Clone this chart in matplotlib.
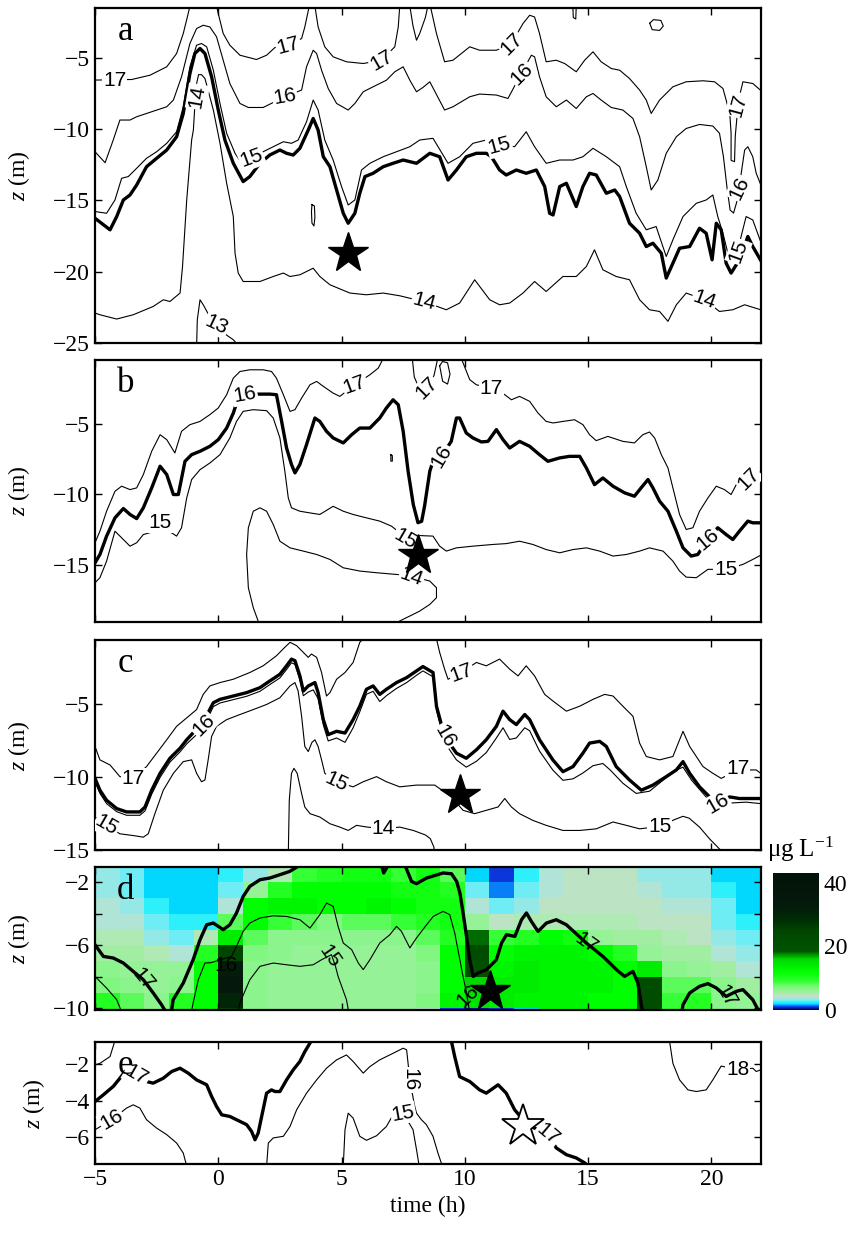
import numpy as np
import matplotlib
matplotlib.use('Agg')
import matplotlib.pyplot as plt
from matplotlib.colors import LinearSegmentedColormap
from matplotlib.ticker import FixedLocator

plt.rcParams['font.family'] = 'serif'
plt.rcParams['font.serif'] = ['Liberation Serif', 'DejaVu Serif']
plt.rcParams['mathtext.fontset'] = 'custom'
plt.rcParams['mathtext.rm'] = 'Liberation Serif'
plt.rcParams['mathtext.it'] = 'Liberation Serif:italic'

# ---------------- panel a: isotherm depths (time h, depth m) ----------------
a_17 = [
    [(-5, -6.58), (-3.51, -6.54), (-2.77, -6.24), (-2.09, -5.65), (-1.69, -4.72), (-1.42, -3.32),
     (-1.22, -1.92), (-1.15, -1.4)],
    [(-0.07, -1.4), (0.0, -1.92), (0.2, -3.32), (0.47, -4.14), (0.88, -4.84), (1.55, -5.14), (1.96, -4.84),
     (2.3, -4.3), (2.84, -4.14), (3.38, -3.67), (3.51, -2.86), (3.69, -1.4)],
    [(3.92, -1.4), (4.05, -2.86), (4.32, -4.25), (4.66, -4.95), (5.2, -5.3), (5.88, -5.42), (6.62, -5.19),
     (7.16, -4.25), (7.3, -2.86), (7.36, -1.4)],
    [(7.77, -1.4), (7.9, -2.8), (8.04, -3.79), (8.17, -3.32), (8.4, -2.2), (8.5, -1.4)],
    [(8.6, -1.4), (8.64, -1.69), (8.85, -3.32), (9.18, -5.3), (9.52, -5.19), (10.2, -4.25), (10.6, -4.49),
     (11.28, -4.49), (11.89, -4.02), (12.36, -2.62), (12.63, -2.04), (12.83, -2.16), (13.03, -3.32),
     (13.3, -5.3), (13.71, -5.19), (14.05, -5.42), (14.52, -6.0), (14.86, -5.19), (15.2, -4.6),
     (15.53, -5.3), (15.94, -5.77), (16.28, -5.89), (16.68, -6.47), (17.09, -7.28), (17.36, -7.98),
     (17.56, -8.92), (17.9, -7.98), (18.44, -7.05), (18.98, -6.7), (19.66, -6.63), (20.13, -6.7),
     (20.47, -7.17), (20.6, -7.98), (20.75, -9.0), (20.8, -10.3), (20.8, -12.2), (20.94, -12.3),
     (20.97, -10.5), (21.1, -8.0), (21.28, -6.7), (21.68, -6.82), (22, -7.3)],
]
a_16 = [
    [(-5, -11.6), (-4.59, -12.37), (-4.26, -10.78), (-3.99, -9.38), (-3.58, -9.38), (-3.31, -9.15),
     (-2.91, -8.92), (-2.09, -8.45), (-1.82, -7.98), (-1.49, -6.35), (-1.15, -4.02), (-0.88, -2.97),
     (-0.61, -2.74), (-0.34, -2.86), (-0.07, -3.55), (0.2, -5.19), (0.47, -6.82), (0.88, -8.22),
     (1.22, -8.5), (1.82, -8.5), (2.7, -7.75), (3.38, -7.28), (3.58, -5.65), (3.85, -4.49), (3.99, -4.72),
     (4.19, -5.89), (4.46, -7.17), (4.8, -8.22), (5.27, -8.68), (5.54, -8.22), (5.88, -7.4), (6.42, -6.93),
     (6.82, -6.59), (7.16, -6.0), (7.5, -5.65), (7.77, -6.59), (8.04, -7.4), (8.3, -7.1), (8.58, -6.7),
     (9.18, -8.68), (9.52, -8.45), (10.2, -7.75), (10.6, -7.56), (11.28, -7.63), (11.75, -7.87),
     (12.29, -6.12), (12.7, -4.84), (12.83, -4.95), (13.03, -6.35), (13.3, -7.75), (13.71, -8.45),
     (14.12, -7.98), (14.52, -8.57), (14.93, -7.75), (15.2, -7.52), (15.53, -7.98), (15.94, -8.5),
     (16.41, -8.68), (16.82, -9.27), (17.09, -10.55), (17.36, -12.65), (17.56, -14.28), (17.83, -13.58),
     (18.17, -11.71), (18.58, -10.55), (18.98, -9.97), (19.52, -9.69), (20.06, -9.8), (20.33, -10.31),
     (20.49, -11.95), (20.63, -14.04), (20.76, -15.68), (20.9, -15.9), (21.05, -15.0), (21.35, -11.48),
     (21.48, -11.25), (21.68, -11.95), (21.82, -13.11), (22, -13.9)],
]
a_15 = [
    [(-5, -15.79), (-4.53, -15.91), (-4.19, -14.98), (-3.92, -13.46), (-3.65, -13.34), (-3.38, -12.88),
     (-2.91, -12.06), (-2.5, -11.6), (-2.09, -11.01), (-1.69, -10.2), (-1.42, -8.45), (-1.15, -5.65),
     (-0.88, -4.14), (-0.68, -4.02), (-0.47, -4.25), (-0.2, -5.89), (0.07, -8.22), (0.34, -10.31),
     (0.68, -11.71), (0.95, -12.41), (1.35, -12.06), (1.82, -11.6), (2.23, -11.25), (2.64, -10.9),
     (2.97, -11.01), (3.24, -10.78), (3.58, -9.5), (3.85, -7.98), (4.05, -8.68), (4.32, -10.78),
     (4.66, -12.18), (5.0, -14.04), (5.27, -15.33), (5.54, -14.98), (5.81, -12.88), (6.15, -12.41),
     (6.69, -11.95), (7.23, -11.6), (7.77, -11.25), (8.17, -10.78), (8.71, -10.66), (9.32, -12.41),
     (9.79, -11.95), (10.33, -11.01), (10.87, -10.78), (11.41, -11.1), (12.02, -11.25), (12.49, -10.2),
     (12.83, -11.25), (13.3, -12.41), (13.85, -12.18), (14.39, -12.18), (14.79, -11.95), (15.2, -11.36),
     (15.74, -11.95), (16.28, -12.65), (16.55, -14.04), (16.95, -15.91), (17.36, -17.07), (17.76, -16.84),
     (18.17, -18.94), (18.44, -17.77), (18.85, -16.14), (19.39, -15.21), (19.79, -14.98), (20.06, -14.63),
     (20.26, -16.14), (20.47, -17.31), (20.67, -18.71), (20.85, -19.2), (21.14, -18.0), (21.41, -16.14),
     (21.68, -16.38), (22, -17.9)],
]
a_thick = [
    [(-5, -16.26), (-4.39, -17.07), (-4.12, -16.14), (-3.85, -14.98), (-3.58, -14.63), (-3.31, -13.93),
     (-2.91, -12.65), (-2.5, -12.06), (-2.09, -11.48), (-1.69, -10.55), (-1.42, -8.92), (-1.15, -6.12),
     (-0.95, -4.72), (-0.74, -4.37), (-0.54, -4.72), (-0.27, -6.35), (0.0, -8.68), (0.27, -10.78),
     (0.61, -12.41), (1.01, -13.69), (1.28, -13.34), (1.69, -12.41), (2.09, -11.83), (2.5, -11.48),
     (2.77, -11.71), (3.04, -11.83), (3.31, -11.36), (3.65, -10.08), (3.85, -9.27), (4.05, -10.08),
     (4.26, -11.95), (4.53, -12.65), (4.8, -14.28), (5.07, -15.91), (5.27, -16.61), (5.54, -15.91),
     (5.74, -14.51), (5.95, -13.34), (6.28, -13.11), (6.69, -12.65), (7.09, -12.41), (7.5, -12.18),
     (8.04, -12.41), (8.58, -11.71), (8.98, -11.95), (9.32, -13.58), (9.66, -12.88), (10.06, -11.95),
     (10.47, -11.71), (10.87, -11.71), (11.08, -11.95), (11.41, -12.88), (11.68, -13.23), (12.09, -12.88),
     (12.49, -13.11), (12.9, -12.88), (13.24, -14.04), (13.44, -15.91), (13.58, -16.03), (13.85, -14.04),
     (14.12, -13.81), (14.52, -15.44), (14.79, -14.04), (15.06, -13.11), (15.33, -13.23), (15.74, -14.51),
     (16.08, -14.28), (16.28, -14.74), (16.68, -16.61), (17.09, -17.31), (17.36, -18.24), (17.63, -18.01),
     (17.97, -18.71), (18.17, -20.45), (18.44, -19.41), (18.71, -18.36), (19.12, -18.24), (19.52, -16.96),
     (19.79, -17.31), (20.03, -19.17), (20.2, -16.61), (20.4, -17.07), (20.6, -19.41), (20.8, -20.1),
     (21.14, -19.17), (21.48, -17.54), (21.68, -18.24), (22, -19.2)],
]
a_14 = [
    [(-5, -22.9), (-4.8, -23.02), (-4.12, -23.32), (-3.45, -23.02), (-2.64, -22.44), (-2.23, -21.97),
     (-1.96, -22.09), (-1.55, -21.5), (-1.45, -19.64), (-1.28, -14.98), (-1.08, -10.78), (-1.01, -10.08),
     (-0.9, -7.0), (-0.8, -6.2), (-0.68, -6.2), (-0.54, -6.47), (-0.2, -8.68), (0.07, -11.01),
     (0.34, -13.81), (0.61, -16.14), (0.68, -18.71), (0.81, -20.1), (1.01, -20.69), (1.69, -20.69),
     (2.23, -20.34), (2.64, -20.1), (2.91, -20.34), (3.31, -20.22), (3.85, -19.76), (4.12, -20.34),
     (4.53, -20.92), (5.34, -21.5), (6.01, -21.62), (6.69, -21.5), (7.36, -21.69), (8.31, -22.09),
     (9.25, -22.67), (9.79, -22.2), (10.4, -20.57), (11.01, -21.97), (11.41, -22.32), (11.82, -22.2),
     (12.36, -21.5), (12.83, -20.69), (13.3, -21.39), (13.98, -20.34), (14.52, -20.34), (14.93, -19.64),
     (15.26, -18.47), (15.6, -19.87), (16.14, -20.34), (16.68, -20.57), (17.09, -21.97), (17.49, -22.67),
     (17.9, -22.79), (18.24, -23.48), (18.58, -22.32), (18.98, -21.5), (19.72, -21.97), (20.33, -22.79),
     (20.87, -22.67), (21.35, -22.32), (22, -22.67)],
]
a_13 = [
    [(-0.88, -25.3), (-0.85, -23.37), (-0.74, -21.97), (-0.61, -22.32), (-0.3, -23.3), (0.3, -24.4),
     (0.61, -24.77), (0.88, -25.3)],
]
a_loops = [
    [(3.8, -15.3), (3.9, -15.4), (3.92, -16.2), (3.88, -16.8), (3.8, -16.6), (3.78, -15.8), (3.8, -15.3)],
    [(17.5, -2.6), (17.65, -2.35), (17.95, -2.4), (18.05, -2.8), (17.9, -3.1), (17.6, -3.05), (17.5, -2.6)],
    [(14.38, -1.4), (14.4, -2.2), (14.5, -2.3), (14.52, -1.4)],
]
a_labels = [('17', -4.2, -6.6, 0), ('17', 2.84, -4.14, 15), ('17', 6.62, -5.19, 30), ('17', 11.89, -4.02, 45),
            ('17', 21.07, -8.33, 75), ('16', 2.7, -7.75, 10), ('16', 12.29, -6.12, 45), ('16', 21.14, -14.16, 65),
            ('15', 1.35, -12.06, 20), ('15', 11.41, -11.2, 15), ('15', 21.1, -18.6, 70), ('14', -0.85, -7.75, 80),
            ('14', 8.35, -22.09, -15), ('14', 19.72, -21.97, -20), ('13', -0.07, -23.72, -25)]
a_star = (5.27, -18.7)

# ---------------- panel b ----------------
b_thick = [
    [(-5, -14.84), (-4.8, -14.25), (-4.53, -12.95), (-4.19, -11.66), (-3.85, -11.0), (-3.58, -11.42),
     (-3.31, -11.71), (-3.04, -10.95), (-2.7, -9.54), (-2.36, -8.01), (-2.09, -8.6), (-1.82, -10.01),
     (-1.62, -10.01), (-1.35, -7.66), (-1.08, -7.19), (-0.74, -6.95), (-0.34, -6.6), (0.0, -6.13),
     (0.34, -5.31), (0.61, -4.25), (0.81, -3.19), (1.08, -2.95), (1.62, -2.91), (2.09, -2.91),
     (2.36, -2.95), (2.57, -4.84), (2.77, -6.72), (2.97, -7.89), (3.11, -8.48), (3.31, -7.89),
     (3.58, -6.48), (3.92, -4.6), (4.12, -4.84), (4.39, -5.54), (4.66, -6.01), (5.07, -6.36),
     (5.41, -5.78), (5.74, -5.31), (6.15, -5.31), (6.55, -4.6), (6.82, -3.89), (7.09, -3.31),
     (7.3, -3.66), (7.5, -5.54), (7.7, -8.36), (7.91, -10.72), (8.1, -12.0), (8.25, -11.9),
     (8.37, -10.8), (8.58, -8.36), (8.71, -7.66), (9.05, -7.31), (9.45, -6.25), (9.66, -4.6),
     (9.79, -4.6), (10.06, -5.66), (10.33, -6.01), (10.67, -6.29), (10.94, -6.25), (11.28, -5.42),
     (11.55, -6.13), (11.82, -6.72), (12.22, -6.25), (12.63, -6.6), (13.03, -7.19), (13.37, -7.66),
     (13.85, -7.42), (14.25, -7.31), (14.66, -7.31), (14.93, -8.13), (15.26, -9.31), (15.6, -8.84),
     (16.01, -9.42), (16.48, -9.89), (16.88, -10.13), (17.15, -9.54), (17.43, -8.95), (17.63, -9.54),
     (17.9, -10.48), (18.24, -11.19), (18.58, -12.6), (18.85, -13.78), (19.18, -14.36), (19.45, -14.25),
     (19.86, -13.19), (20.26, -12.36), (20.6, -12.84), (20.87, -13.19), (21.14, -12.6), (21.48, -11.89),
     (21.68, -12.01), (22, -12.01)],
]
b_17 = [
    [(-5, -13.42), (-4.8, -12.6), (-4.53, -11.19), (-4.19, -9.78), (-3.92, -9.42), (-3.58, -9.66),
     (-3.31, -9.54), (-3.04, -8.6), (-2.7, -6.95), (-2.36, -5.78), (-2.09, -6.13), (-1.76, -7.07),
     (-1.49, -5.54), (-1.15, -5.07), (-0.74, -4.84), (-0.34, -4.36), (0.0, -3.89), (0.34, -2.95),
     (0.61, -1.78), (0.88, -1.31), (1.28, -1.19), (1.82, -1.19), (2.16, -1.31), (2.36, -1.78),
     (2.64, -2.95), (2.91, -4.13), (3.11, -4.01), (3.38, -3.19), (3.72, -2.25), (3.99, -2.01),
     (4.26, -2.36), (4.66, -2.84), (4.93, -3.07), (5.54, -2.25), (6.15, -1.54), (6.49, -1.07), (6.69, -0.4)],
    [(7.87, -0.4), (7.95, -1.7), (8.1, -2.3), (8.45, -2.5), (8.75, -1.6), (8.9, -0.4)],
    [(8.98, -0.9), (9.1, -0.6), (9.3, -0.7), (9.4, -1.5), (9.3, -2.2), (9.1, -2.0), (8.98, -0.9)],
    [(9.86, -0.4), (10.2, -1.89), (10.47, -2.25), (11.08, -2.48), (11.62, -2.95), (11.89, -3.31),
     (12.22, -3.07), (12.63, -3.42), (12.97, -4.25), (13.3, -4.84), (13.58, -4.95), (13.98, -4.84),
     (14.45, -4.72), (14.79, -5.07), (15.06, -5.78), (15.33, -6.2), (15.8, -5.9), (16.41, -6.25),
     (16.88, -6.36), (17.22, -5.78), (17.49, -5.59), (17.7, -6.01), (17.97, -7.19), (18.24, -8.13),
     (18.44, -9.54), (18.71, -11.42), (18.98, -12.48), (19.25, -12.36), (19.52, -11.19), (19.86, -10.25),
     (20.2, -9.42), (20.53, -9.66), (20.8, -10.01), (21.01, -9.31), (21.48, -8.95), (22, -8.4)],
]
b_15 = [
    [(-5, -16.25), (-4.8, -15.89), (-4.53, -14.72), (-4.19, -12.6), (-3.85, -13.19), (-3.58, -13.66),
     (-3.31, -13.42), (-3.04, -12.84), (-2.36, -12.5), (-1.89, -12.72), (-1.69, -12.95), (-1.49, -12.36),
     (-1.28, -10.25), (-1.08, -8.95), (-0.74, -8.25), (-0.34, -7.78), (0.07, -7.19), (0.47, -6.01),
     (0.74, -4.84), (1.01, -4.13), (1.42, -4.01), (1.96, -4.08), (2.23, -4.6), (2.5, -6.01), (2.7, -8.36),
     (2.84, -10.25), (2.97, -10.95), (3.31, -11.19), (3.72, -11.31), (4.12, -11.42), (4.66, -10.84),
     (5.07, -11.19), (5.47, -11.42), (6.01, -11.66), (6.55, -11.89), (7.03, -12.25), (7.57, -13.0),
     (8.0, -12.9), (8.71, -12.95), (8.98, -13.66), (9.25, -14.01), (9.66, -13.78), (10.33, -13.66),
     (11.14, -13.54), (11.68, -13.48), (12.22, -13.31), (12.76, -13.54), (13.3, -13.9), (13.85, -14.13),
     (14.39, -13.9), (14.93, -13.78), (15.47, -14.01), (16.01, -14.36), (16.55, -14.25), (17.09, -14.01),
     (17.49, -13.78), (18.04, -14.01), (18.44, -14.72), (18.71, -15.42), (18.98, -15.85), (19.39, -15.89),
     (19.86, -15.3), (20.6, -15.3), (21.28, -14.95), (21.68, -14.6), (22, -14.3)],
]
b_14 = [
    [(1.69, -19.3), (1.42, -18.01), (1.22, -16.6), (1.15, -14.25), (1.22, -12.36), (1.42, -11.19),
     (1.69, -10.95), (1.96, -11.19), (2.23, -12.13), (2.5, -13.31), (2.91, -13.78), (3.45, -14.01),
     (3.99, -14.25), (4.53, -14.6), (5.07, -15.19), (5.74, -15.42), (6.42, -15.54), (7.23, -15.66),
     (7.84, -15.78), (8.58, -16.13), (8.85, -16.6), (8.85, -17.31), (8.58, -17.78), (8.17, -18.25),
     (7.91, -18.48), (7.36, -18.95), (7.1, -19.3)],
]
b_loops = [[(7.0, -7.2), (7.06, -7.25), (7.06, -7.65), (7.0, -7.65), (7.0, -7.2)]]
b_labels = [('16', 1.08, -2.95, 10), ('16', 9.05, -7.31, 60), ('16', 19.86, -13.19, 40),
            ('17', 5.54, -2.25, 20), ('17', 8.45, -2.5, 45), ('17', 11.08, -2.48, 0), ('17', 21.5, -8.9, 45),
            ('15', -2.36, -12.0, 0), ('15', 7.57, -13.19, -30), ('15', 20.6, -15.3, 0), ('14', 7.84, -15.85, -20)]
b_star = (8.11, -14.25)

# ---------------- panel c ----------------
c_thick = [
    [(-5, -10.07), (-4.8, -10.88), (-4.53, -11.57), (-4.12, -12.14), (-3.72, -12.37), (-3.18, -12.37),
     (-2.97, -12.03), (-2.7, -10.88), (-2.36, -9.72), (-1.96, -8.69), (-1.55, -8.0), (-1.28, -7.42),
     (-0.61, -6.2), (-0.2, -4.88), (0.07, -4.65), (0.61, -4.42), (1.15, -4.19), (1.69, -3.85), (2.09, -3.39),
     (2.5, -2.93), (2.77, -2.35), (2.97, -1.89), (3.11, -2.0), (3.31, -3.04), (3.45, -4.08), (3.65, -3.73),
     (3.92, -3.5), (4.05, -4.19), (4.26, -6.04), (4.46, -7.07), (4.8, -6.84), (5.14, -6.96), (5.47, -6.04),
     (5.74, -5.12), (6.01, -3.96), (6.28, -3.73), (6.55, -4.31), (6.82, -3.96), (7.23, -3.5), (7.64, -3.16),
     (8.04, -2.7), (8.3, -2.4), (8.71, -2.81), (8.85, -5.12), (9.18, -7.19), (9.66, -8.34), (10.06, -8.69),
     (10.47, -8.11), (10.87, -7.42), (11.28, -6.5), (11.55, -5.46), (11.82, -6.04), (12.09, -6.38),
     (12.43, -5.69), (12.63, -6.04), (13.03, -7.42), (13.57, -8.8), (13.98, -9.61), (14.39, -9.26),
     (14.79, -8.34), (15.06, -7.65), (15.47, -7.53), (15.74, -7.88), (16.14, -9.26), (16.68, -10.18),
     (17.16, -10.88), (17.63, -10.53), (18.17, -9.95), (18.58, -9.49), (18.85, -8.92), (19.12, -9.72),
     (19.52, -10.65), (19.93, -11.34), (20.33, -11.68), (20.74, -11.34), (21.14, -11.45), (22, -11.45)],
]
c_under = [
    [(-5, -10.3), (-4.8, -11.1), (-4.53, -11.8), (-4.12, -12.35), (-3.72, -12.6), (-3.18, -12.6),
     (-2.97, -12.3), (-2.7, -11.15), (-2.36, -10.0), (-1.96, -8.95), (-1.55, -8.25), (-1.28, -7.7),
     (-0.9, -7.1), (-0.5, -6.2), (-0.2, -5.15), (0.07, -4.9), (0.61, -4.67), (1.15, -4.44), (1.69, -4.1),
     (2.09, -3.64), (2.5, -3.18), (2.77, -2.6), (2.97, -2.14), (3.11, -2.25), (3.31, -3.3), (3.45, -4.4),
     (3.65, -4.15), (3.85, -4.0), (4.05, -4.6), (4.26, -6.4), (4.46, -7.5), (4.8, -7.3), (5.14, -7.6),
     (5.47, -6.6), (5.74, -5.5), (6.01, -4.3), (6.28, -4.1), (6.55, -4.8), (6.82, -4.4), (7.23, -3.9),
     (7.64, -3.5), (8.04, -3.0), (8.3, -2.7), (8.71, -3.1), (8.85, -5.4), (9.18, -7.6), (9.66, -8.8),
     (10.06, -9.3), (10.47, -8.9), (10.87, -8.3), (11.28, -7.3), (11.55, -6.6), (11.82, -7.4), (12.09, -7.3),
     (12.43, -6.6), (12.63, -6.8), (13.03, -8.2), (13.57, -9.5), (13.98, -10.2), (14.39, -10.1),
     (14.79, -9.7), (15.2, -9.2), (15.6, -9.05), (15.9, -9.5), (16.41, -10.4), (16.95, -11.1),
     (17.49, -10.95), (18.04, -10.2), (18.58, -9.5), (18.85, -9.3), (19.2, -10.2), (19.79, -11.35),
     (20.33, -11.9), (20.87, -11.75), (21.41, -11.7), (22, -11.8)],
]
c_17 = [
    [(-5, -7.88), (-4.8, -8.8), (-4.39, -9.15), (-3.99, -9.95), (-3.45, -10.07), (-2.91, -9.26),
     (-2.5, -8.34), (-2.09, -7.42), (-1.69, -6.5), (-1.28, -5.92), (-0.88, -5.35), (-0.61, -4.31),
     (-0.34, -3.73), (0.07, -3.5), (0.61, -3.27), (1.28, -2.81), (1.82, -2.35), (2.36, -1.66), (2.7, -1.08),
     (2.91, -0.74), (3.18, -0.97), (3.45, -1.43), (3.65, -1.77), (3.78, -1.54), (3.99, -1.77), (4.19, -2.81),
     (4.39, -4.42), (4.53, -4.19), (4.8, -3.27), (5.14, -2.81), (5.47, -2.12), (5.74, -0.74), (5.88, -0.5)],
    [(8.85, -0.5), (8.98, -1.43), (9.18, -2.58), (9.32, -3.27), (9.86, -2.81), (10.47, -2.12), (10.87, -2.35),
     (11.41, -1.89), (11.82, -2.58), (12.16, -3.04), (12.49, -2.35), (12.83, -3.04), (13.24, -4.31),
     (13.58, -4.77), (14.12, -5.46), (14.66, -5.12), (15.2, -4.65), (15.67, -4.31), (16.01, -4.42),
     (16.41, -5.12), (16.82, -5.81), (17.09, -7.65), (17.36, -8.57), (17.9, -8.8), (18.44, -8.57),
     (18.85, -6.84), (19.12, -7.88), (19.66, -9.26), (20.06, -9.72), (20.4, -10.07), (21.07, -9.5),
     (21.82, -9.49), (22, -9.72)],
]
c_15 = [
    [(-5, -12.7), (-4.53, -13.3), (-3.99, -13.87), (-3.45, -13.99), (-3.04, -14.1), (-2.84, -13.87),
     (-2.57, -12.49), (-2.23, -10.88), (-1.82, -9.72), (-1.42, -8.92), (-1.08, -8.8), (-0.88, -9.72),
     (-0.68, -10.3), (-0.54, -10.18), (-0.41, -8.8), (-0.27, -7.19), (-0.07, -6.5), (0.34, -6.04),
     (0.88, -5.69), (1.42, -5.35), (1.96, -5.0), (2.5, -4.54), (2.91, -3.73), (3.11, -3.5), (3.24, -4.08),
     (3.38, -5.81), (3.51, -7.88), (3.65, -8.23), (3.8, -7.6), (3.92, -7.42), (4.05, -7.88), (4.19, -8.8),
     (4.32, -9.72), (4.8, -10.3), (5.47, -10.65), (5.88, -10.3), (6.42, -9.95), (6.82, -10.3),
     (7.36, -10.65), (8.04, -10.53), (8.78, -10.53), (9.45, -11.34), (9.93, -12.26), (10.4, -12.49),
     (10.87, -12.26), (11.35, -12.03), (11.62, -11.45), (11.89, -12.03), (12.22, -12.49), (12.76, -12.95),
     (13.3, -13.29), (13.98, -13.64), (14.66, -13.64), (15.33, -13.53), (16.01, -13.06), (16.55, -13.29),
     (17.09, -13.53), (17.9, -13.36), (18.5, -12.9), (18.85, -12.67), (19.1, -12.8), (19.52, -13.41),
     (19.93, -14.22), (20.33, -14.91), (20.6, -15.3)],
]
c_14 = [
    [(2.84, -15.3), (2.88, -11.57), (2.97, -9.72), (3.07, -9.38), (3.2, -9.72), (3.38, -11.11),
     (3.51, -12.03), (3.72, -12.49), (4.12, -12.72), (4.53, -13.18), (4.93, -13.41), (5.27, -13.64),
     (5.61, -13.29), (6.0, -13.4), (6.69, -13.53), (7.36, -13.41), (7.91, -13.64), (8.4, -13.95),
     (8.6, -14.2), (8.75, -14.8), (8.75, -15.3)],
]
c_labels = [('16', -0.61, -6.4, 45), ('16', 9.18, -7.19, -60), ('16', 20.24, -11.8, 30),
            ('17', -3.45, -10.07, 0), ('17', 9.86, -2.81, 20), ('17', 21.07, -9.38, 0),
            ('15', -4.53, -13.3, -30), ('15', 4.8, -10.3, -25), ('15', 17.9, -13.36, 0), ('14', 6.69, -13.53, 0)]
c_star = (9.79, -11.22)

# ---------------- panel d: chlorophyll (ug/L), 1 h x 1 m cells ----------------
d_t_edges = list(range(-5, 23))
d_z_edges = [-1, -2, -3, -4, -5, -6, -7, -8, -9, -10, -11]
d_chl = [
    [3.5, 3, 2, 2, 2, 2.5, 3.5, 5, 9, 10, 11, 11, 9, 11, 8, 2, 1, 2.5, 4, 4.5, 4.5, 4.5, 3.5, 3.5, 3.5, 2, 2],
    [3.5, 3, 2, 2, 2, 3, 6, 10, 12, 12, 12, 12, 11, 11, 10, 3, 1.5, 3, 4, 4.5, 4.5, 4.5, 4, 3.5, 3.5, 2.5, 2],
    [4, 3.5, 2.5, 2, 2, 4, 12, 13, 13, 12, 12, 13, 12, 11, 11, 4, 3, 3.5, 4.5, 4.5, 4.5, 4.5, 4.5, 4, 4, 3, 2],
    [4, 4, 3, 2.5, 2.5, 8, 12, 9, 8, 7, 8, 8, 9, 10, 11, 6, 4.5, 5, 5, 5, 5, 5, 4.5, 4.5, 4.5, 3, 2.5],
    [5, 5, 3.5, 3, 5, 14, 8, 6.5, 6.5, 6.5, 6.5, 6.5, 6.5, 8, 10, 18, 9, 10, 12, 11, 6, 5.5, 5.5, 5, 4.5, 3.5, 3],
    [5.5, 5.5, 5, 4, 10, 25, 7, 6.5, 6, 6, 6, 6, 6, 7, 12, 22, 12, 13, 13, 13, 12, 10, 6, 5.5, 5.5, 4, 3.5],
    [6.5, 6, 6, 6, 12, 32, 6.5, 6, 6, 6, 6, 6, 6, 6.5, 12, 20, 13, 14, 13, 13, 13, 12, 14, 6.5, 6, 5.5, 4],
    [7, 6.5, 6, 6.5, 12, 35, 6.5, 6, 6, 6, 6, 6, 6, 6.5, 12, 16, 14, 14, 13, 13, 13, 12, 22, 8, 8, 6.5, 5.5],
    [10, 8, 6.5, 10, 12, 30, 6.5, 6, 6, 6, 6, 6, 6, 7, 13, 15, 14, 13, 13, 13, 12, 12, 22, 9, 10, 6.5, 6],
    [10, 8, 6.5, 10, 12, 25, 6.5, 6, 6, 6, 6, 6, 6, 4, 1, 0.5, 1, 2, 12, 12, 12, 12, 20, 9, 9, 6.5, 6],
]
d_thick = [
    [(-5, -5.96), (-4.66, -6.7), (-4.26, -6.8), (-3.85, -7.12), (-3.45, -7.65), (-3.04, -8.18), (-2.64, -9.02),
     (-2.3, -9.77), (-2.1, -10.3), (-1.9, -10.2), (-1.83, -9.45), (-1.42, -8.39), (-1.02, -6.91),
     (-0.74, -5.64), (-0.47, -4.69), (-0.2, -4.58), (0.2, -5.0), (0.47, -4.69), (0.74, -3.94), (1.01, -2.89),
     (1.28, -2.25), (1.69, -1.83), (2.09, -1.72), (2.5, -1.51), (2.9, -1.3), (3.31, -0.9)],
    [(6.62, -0.9), (6.71, -1.4), (6.89, -0.9)],
    [(7.57, -0.9), (7.84, -1.94), (8.04, -2.08), (8.45, -1.72), (9.12, -1.4), (9.46, -1.45), (9.67, -1.94),
     (9.8, -2.67), (9.93, -3.94), (10.07, -5.43), (10.2, -6.91), (10.34, -7.97), (10.54, -7.75),
     (10.88, -7.54), (11.28, -6.91), (11.49, -5.85), (11.69, -5.32), (12.03, -5.43), (12.3, -4.37),
     (12.5, -3.94), (12.7, -4.48), (12.97, -5.11), (13.31, -4.58), (13.71, -4.37), (14.12, -4.69),
     (14.93, -5.85), (15.6, -6.7), (16.15, -7.54), (16.48, -7.97), (16.82, -7.65), (17.02, -8.39),
     (17.16, -9.77), (17.22, -10.3)],
    [(18.8, -10.3), (18.85, -9.77), (19.12, -9.02), (19.52, -8.6), (19.86, -8.43), (20.2, -8.7),
     (20.6, -9.24), (21.01, -8.92), (21.28, -8.81), (21.68, -9.45), (21.89, -10.08), (22, -10.3)],
]
d_16 = [
    [(-5, -7.97), (-4.53, -8.71), (-4.12, -9.45), (-3.9, -10.3)],
    [(-1.1, -10.3), (-1.02, -9.66), (-0.81, -8.18), (-0.54, -7.12), (-0.3, -7.1), (0.54, -6.7),
     (0.74, -6.06), (1.01, -5.11), (1.28, -4.58), (1.69, -4.26), (2.23, -4.12), (2.77, -4.16), (3.31, -4.37),
     (3.72, -4.9), (4.12, -4.05), (4.39, -3.31), (4.66, -3.52), (4.86, -4.79), (5.07, -5.85), (5.41, -6.27),
     (5.68, -7.12), (5.88, -7.54), (6.15, -6.91), (6.55, -5.85), (6.96, -5.32), (7.23, -4.79), (7.43, -5.11),
     (7.77, -6.16), (8.04, -5.53), (8.45, -4.69), (8.72, -4.16), (9.12, -3.84), (9.39, -4.05), (9.59, -5.21),
     (9.8, -6.91), (9.9, -7.75), (10.07, -9.02), (10.2, -10.3)],
]
d_15 = [
    [(0.8, -10.3), (0.88, -9.64), (1.28, -8.18), (1.69, -7.33), (2.23, -7.12), (2.77, -7.23), (3.31, -7.33),
     (3.85, -7.23), (4.19, -6.91), (4.59, -6.59), (4.75, -7.3), (4.86, -7.97), (5.2, -9.45), (5.3, -10.3)],
]
d_labels = [('17', -3.04, -8.18, -50), ('16', 0.3, -7.3, 0), ('15', 4.5, -6.7, -55), ('16', 10.1, -9.2, 45),
            ('17', 14.93, -5.85, -35), ('17', 20.6, -9.24, -60)]
d_star = (11.01, -8.92)

# ---------------- panel e ----------------
e_thick = [
    [(-5, -4.05), (-4.66, -3.68), (-4.26, -3.22), (-3.99, -2.77), (-3.78, -2.4), (-3.31, -2.6), (-2.91, -2.95),
     (-2.64, -3.04), (-2.23, -2.77), (-1.89, -2.4), (-1.55, -2.22), (-1.22, -2.49), (-0.88, -2.86),
     (-0.47, -3.13), (-0.27, -3.77), (-0.07, -4.32), (0.14, -4.78), (0.47, -4.87), (0.74, -5.05),
     (1.15, -5.32), (1.35, -5.69), (1.49, -6.15), (1.62, -5.78), (1.76, -4.87), (1.96, -3.59), (2.16, -3.41),
     (2.3, -3.5), (2.5, -3.5), (2.77, -2.86), (3.04, -2.31), (3.31, -1.85), (3.51, -1.31), (3.78, -0.7)],
    [(9.45, -0.7), (9.59, -1.58), (9.79, -2.68), (10.2, -2.95), (10.6, -3.41), (10.87, -3.59), (11.35, -3.13),
     (11.68, -3.59), (12.02, -4.5), (12.36, -5.05), (12.7, -5.42), (13.37, -5.9), (13.71, -6.6),
     (14.12, -6.97), (14.52, -7.15), (14.86, -7.42), (15.0, -7.6)],
]
e_16 = [
    [(-4.19, -0.7), (-4.39, -1.58), (-4.8, -1.95), (-5, -2.04)],
    [(-5, -5.6), (-4.32, -5.05), (-3.72, -4.41), (-3.45, -4.23), (-3.18, -4.41), (-2.91, -5.05), (-2.5, -5.51),
     (-2.09, -5.87), (-1.69, -6.33), (-1.42, -6.88), (-1.28, -7.6)],
    [(1.96, -7.6), (2.03, -6.33), (2.23, -6.05), (2.64, -5.96), (2.91, -5.42), (3.18, -4.5), (3.58, -3.59),
     (3.99, -2.86), (4.39, -2.22), (4.8, -1.76), (5.2, -1.49), (5.47, -1.85), (5.88, -2.49), (6.15, -2.13),
     (6.55, -1.76), (7.09, -1.4), (7.5, -1.12), (7.64, -1.21), (7.77, -2.86), (7.95, -4.2), (8.04, -4.69),
     (8.24, -5.05), (8.44, -5.32), (8.71, -5.96), (8.91, -6.88), (9.09, -7.6)],
]
e_15 = [
    [(5.07, -7.6), (5.14, -5.6), (5.27, -4.69), (5.47, -4.96), (5.74, -5.96), (6.01, -6.18), (6.42, -5.93),
     (6.82, -5.42), (7.09, -4.78), (7.5, -4.69), (7.9, -5.6), (8.04, -6.69), (8.15, -7.6)],
]
e_18 = [
    [(18.3, -0.7), (18.44, -1.95), (18.71, -2.86), (19.05, -3.41), (19.39, -3.5), (19.79, -3.41),
     (20.06, -2.86), (20.4, -2.1), (21.07, -2.31), (21.68, -2.22), (21.82, -2.4), (22, -2.31)],
]
e_labels = [('17', -3.31, -2.6, -30), ('17', 13.37, -5.85, -40), ('16', -4.32, -5.05, 30),
            ('16', 7.77, -2.86, -90), ('15', 7.5, -4.69, 10), ('18', 21.07, -2.31, 0)]
e_star = (12.36, -5.42)

x_ticks = [-5, 0, 5, 10, 15, 20]


def draw_lines(ax, segments, lw):
    for seg in segments:
        t, z = zip(*seg)
        ax.plot(t, z, color='k', lw=lw, solid_joinstyle='round', zorder=3)


def draw_labels(ax, labels, boxed=True):
    for txt, t, z, rot in labels:
        extra = {}
        if boxed:
            extra['bbox'] = dict(boxstyle='square,pad=0.05', fc='white', ec='none')
        ax.text(t, z, txt, rotation=rot, ha='center', va='center', fontsize=15,
                family='Liberation Sans', rotation_mode='anchor', zorder=5, clip_on=True, **extra)


def style_axes(ax, letter, ylim, major, minor=None, show_x=False, ylab_x=-0.095):
    ax.set_xlim(-5, 22)
    ax.set_ylim(*ylim)
    ax.set_xticks(x_ticks)
    ax.yaxis.set_major_locator(FixedLocator(major))
    if minor:
        ax.yaxis.set_minor_locator(FixedLocator(minor))
        ax.tick_params(which='minor', direction='in', top=True, right=True, length=5, width=1)
    ax.tick_params(direction='in', top=True, right=True, length=5, width=1, labelsize=17,
                   labelbottom=show_x)
    for sp in ax.spines.values():
        sp.set_linewidth(1.6)
    ax.set_ylabel('$z$ (m)', fontsize=17)
    ax.yaxis.set_label_coords(ylab_x, 0.5)
    ax.annotate(letter, xy=(0, 1), xycoords='axes fraction', xytext=(22, -17),
                textcoords='offset points', ha='center', va='center', fontsize=25, zorder=7)


fig = plt.figure(figsize=(8.52, 12.33), dpi=100)
left, width = 0.1115, 0.7813
ax_a = fig.add_axes([left, 0.7218, width, 0.2715])
ax_b = fig.add_axes([left, 0.4958, width, 0.2122])
ax_c = fig.add_axes([left, 0.3104, width, 0.1703])
ax_d = fig.add_axes([left, 0.1809, width, 0.1162])
ax_e = fig.add_axes([left, 0.0557, width, 0.0989])
cax = fig.add_axes([0.9073, 0.1809, 0.054, 0.1109])

# panel a
draw_lines(ax_a, a_17 + a_16 + a_15 + a_14 + a_13 + a_loops, 0.8)
draw_lines(ax_a, a_thick, 2.4)
draw_labels(ax_a, a_labels)
ax_a.plot(*a_star, marker='*', ms=30, color='k', zorder=6)
style_axes(ax_a, 'a', (-25, -1.55), [-5, -10, -15, -20, -25])

# panel b
draw_lines(ax_b, b_17 + b_15 + b_14 + b_loops, 0.8)
draw_lines(ax_b, b_thick, 2.4)
draw_labels(ax_b, b_labels)
ax_b.plot(*b_star, marker='*', ms=30, color='k', zorder=6)
style_axes(ax_b, 'b', (-19, -0.5), [-5, -10, -15])

# panel c
draw_lines(ax_c, c_17 + c_15 + c_14 + c_under, 0.8)
draw_lines(ax_c, c_thick, 2.4)
draw_labels(ax_c, c_labels)
ax_c.plot(*c_star, marker='*', ms=30, color='k', zorder=6)
style_axes(ax_c, 'c', (-15, -0.6), [-5, -10, -15])

# panel d: chlorophyll field with isotherms
chl_cmap = LinearSegmentedColormap.from_list('chl', [
    (0.0, (0.0, 0.0, 0.35)), (1.0 / 43, (0.05, 0.25, 0.95)), (2.0 / 43, (0.0, 0.95, 1.0)),
    (3.0 / 43, (0.5, 0.93, 0.95)), (4.2 / 43, (0.76, 0.88, 0.8)), (5.5 / 43, (0.62, 0.94, 0.62)),
    (7.0 / 43, (0.5, 0.97, 0.5)), (9.0 / 43, (0.2, 1.0, 0.2)), (12.0 / 43, (0.0, 1.0, 0.0)),
    (16.0 / 43, (0.0, 0.85, 0.0)), (18.5 / 43, (0.0, 0.33, 0.0)), (25.0 / 43, (0.0, 0.27, 0.0)),
    (29.0 / 43, (0.0, 0.16, 0.02)), (33.0 / 43, (0.02, 0.1, 0.05)), (1.0, (0.01, 0.07, 0.03))])
mesh = ax_d.pcolormesh(d_t_edges, d_z_edges, np.array(d_chl), cmap=chl_cmap, vmin=0, vmax=43,
                       shading='flat', zorder=1)
draw_lines(ax_d, d_16 + d_15, 0.8)
draw_lines(ax_d, d_thick, 2.4)
draw_labels(ax_d, d_labels, boxed=False)
ax_d.plot(*d_star, marker='*', ms=30, color='k', zorder=6)
style_axes(ax_d, 'd', (-10.1, -1.0), [-2, -6, -10], minor=[-4, -8])

cb = fig.colorbar(mesh, cax=cax, ticks=[0, 20, 40])
cb.outline.set_visible(False)
cax.tick_params(length=0, labelsize=17)
fig.text(0.94, 0.311, r'$\mathrm{\mu g\ L^{-1}}$', ha='center', va='center', fontsize=18)

# panel e
draw_lines(ax_e, e_16 + e_15 + e_18, 0.8)
draw_lines(ax_e, e_thick, 2.4)
draw_labels(ax_e, e_labels)
ax_e.plot(*e_star, marker='*', ms=32, markerfacecolor='white', markeredgecolor='k', mew=1.3, zorder=6)
style_axes(ax_e, 'e', (-7.5, -0.8), [-2, -4, -6], show_x=True, ylab_x=-0.072)
ax_e.set_xlabel('time (h)', fontsize=17)

fig.savefig('out.png', dpi=100)
